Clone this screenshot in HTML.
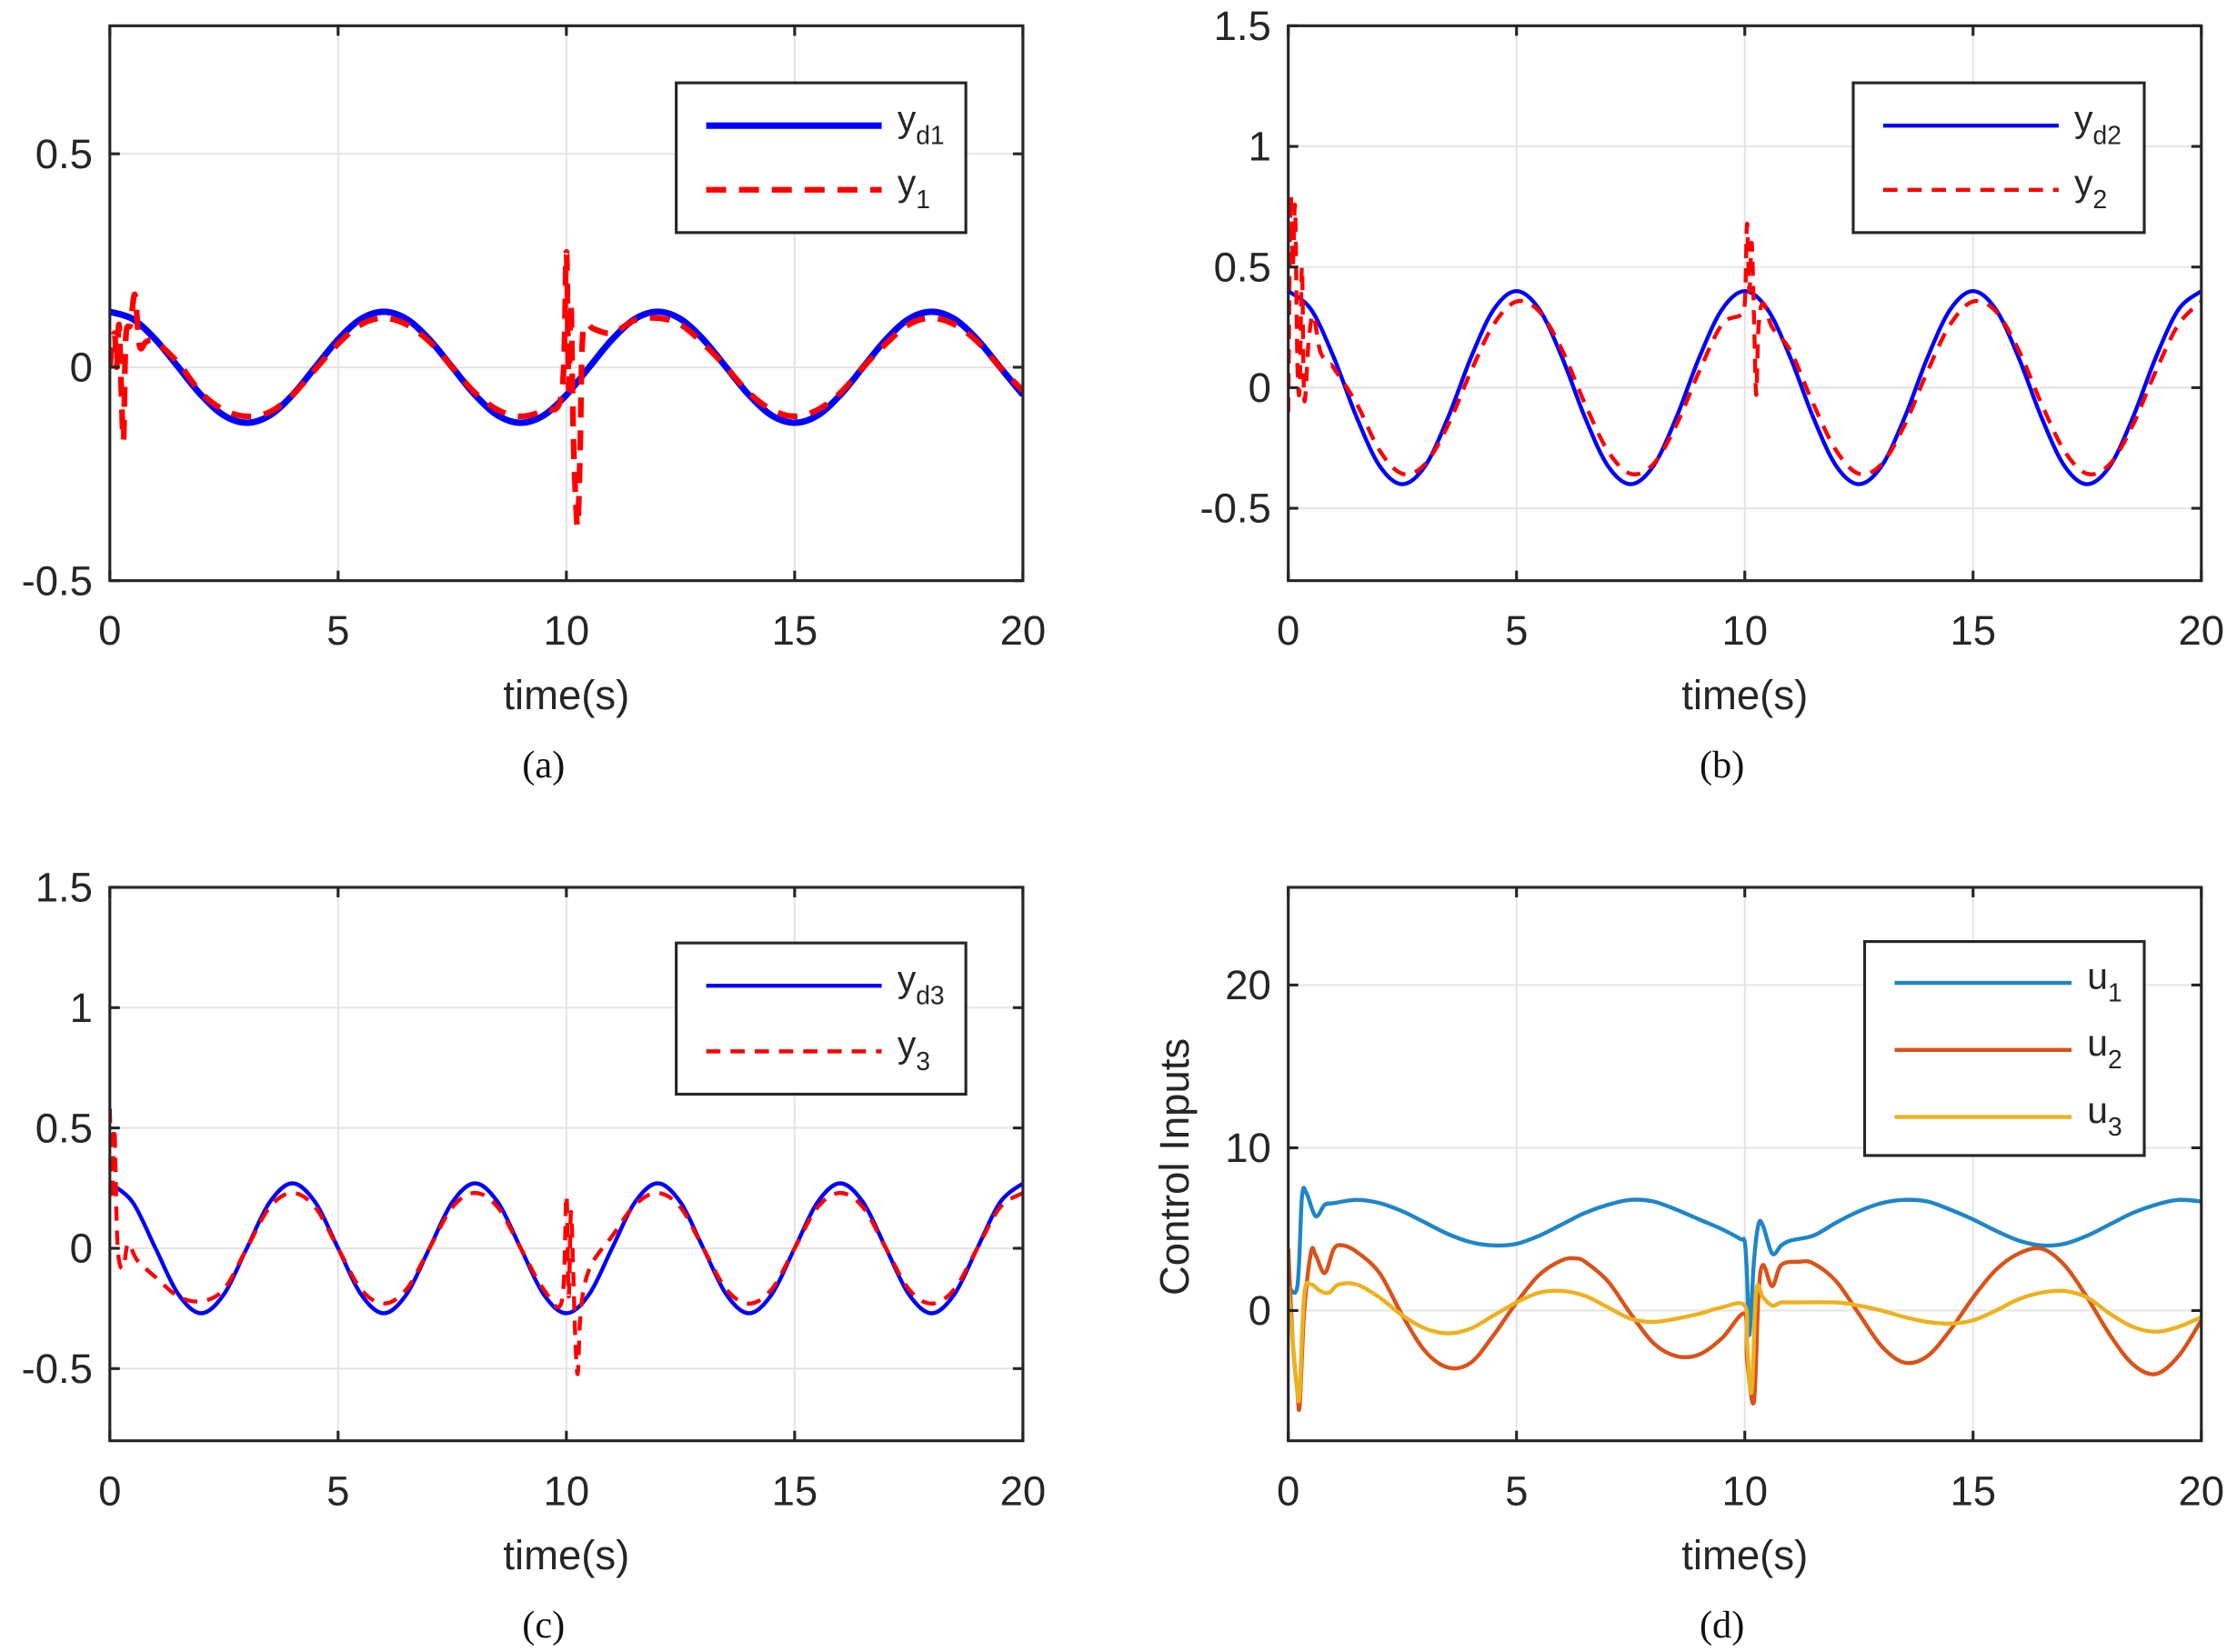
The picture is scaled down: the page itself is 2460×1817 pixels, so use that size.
<!DOCTYPE html>
<html><head><meta charset="utf-8">
<style>html,body{margin:0;padding:0;background:#fff}svg{display:block}</style>
</head><body>
<svg id="fig" width="2460" height="1817" viewBox="0 0 1568 1158" xmlns="http://www.w3.org/2000/svg" font-family="'Liberation Sans', sans-serif">
<rect width="1568" height="1158" fill="#fff"/>
</svg>
<script>
// ---------- data ----------
const xTicks = [0,5,10,15,20];
const xTickLabels = ['0','5','10','15','20'];
const aTicks = [-0.5,0,0.5];
const aTickLabels = ['-0.5','0','0.5'];
const bTicks = [-0.5,0,0.5,1,1.5];
const bTickLabels = ['-0.5','0','0.5','1','1.5'];
const dTicks = [0,10,20];
const dTickLabels = ['0','10','20'];

// desired trajectories sampled every 0.5 s (t = 0..20)
const yd1Vals = [.13,.113,.065,0,-.065,-.113,-.13,-.113,-.065,0,.065,.113,.13,.113,.065,0,-.065,-.113,-.13,-.113,-.065,0,.065,.113,.13,.113,.065,0,-.065,-.113,-.13,-.113,-.065,0,.065,.113,.13,.113,.065,0,-.065];
const yd2Vals = [.4,.324,.124,-.124,-.324,-.4,-.324,-.124,.124,.324,.4,.324,.124,-.124,-.324,-.4,-.324,-.124,.124,.324,.4,.324,.124,-.124,-.324,-.4,-.324,-.124,.124,.324,.4,.324,.124,-.124,-.324,-.4,-.324,-.124,.124,.324,.4];
const yd3Vals = [.27,.191,0,-.191,-.27,-.191,0,.191,.27,.191,0,-.191,-.27,-.191,0,.191,.27,.191,0,-.191,-.27,-.191,0,.191,.27,.191,0,-.191,-.27,-.191,0,.191,.27,.191,0,-.191,-.27,-.191,0,.191,.27];

const y1T = [0,0.1,0.15,0.2,0.25,0.3,0.35,0.45,0.55,0.65,0.8,1,1.5,2,2.5,3,3.5,4,4.5,5,5.5,6,6.5,7,7.5,8,8.5,9,9.5,9.9,10,10.05,10.1,10.15,10.2,10.25,10.3,10.35,10.45,10.6,11,11.5,12,12.5,13,13.5,14,14.5,15,15.5,16,16.5,17,17.5,18,18.5,19,19.5,20];
const y1V = [0,0.08,0,0.1,-0.05,-0.17,0.07,0.1,0.17,0.05,0.06,0.06,0.01,-0.06,-0.1,-0.115,-0.105,-0.065,-0.005,0.055,0.1,0.115,0.1,0.06,0,-0.06,-0.1,-0.115,-0.1,-0.06,0.27,-0.05,0.15,-0.15,-0.3,-0.37,-0.2,0.06,0.1,0.09,0.08,0.11,0.115,0.1,0.055,0,-0.06,-0.1,-0.115,-0.1,-0.06,0,0.055,0.1,0.115,0.1,0.06,0,-0.055];

const y2T = [0,0.05,0.1,0.15,0.2,0.25,0.3,0.35,0.45,0.55,0.7,0.9,1,1.5,2,2.5,3,3.5,4,4.5,5,5.5,6,6.5,7,7.5,8,8.5,9,9.5,9.9,10,10.05,10.1,10.15,10.2,10.25,10.3,10.4,10.6,11,11.5,12,12.5,13,13.5,14,14.5,15,15.5,16,16.5,17,17.5,18,18.5,19,19.5,20];
const y2V = [-0.1,0.78,0.5,0.75,0.1,0,0.5,-0.05,0.2,0.3,0.15,0.1,0.08,-0.067,-0.26,-0.357,-0.316,-0.155,0.067,0.262,0.357,0.316,0.155,-0.067,-0.262,-0.357,-0.316,-0.155,0.067,0.262,0.3,0.35,0.68,0.4,0.6,0.3,-0.03,0.25,0.35,0.25,0.153,-0.067,-0.26,-0.357,-0.316,-0.155,0.067,0.262,0.357,0.316,0.155,-0.067,-0.262,-0.357,-0.316,-0.155,0.067,0.262,0.357];

const y3T = [0,0.05,0.1,0.15,0.2,0.3,0.4,0.6,1,1.5,2,2.5,3,3.5,4,4.5,5,5.5,6,6.5,7,7.5,8,8.5,9,9.5,9.9,10,10.05,10.1,10.15,10.2,10.25,10.3,10.4,10.6,11,11.5,12,12.5,13,13.5,14,14.5,15,15.5,16,16.5,17,17.5,18,18.5,19,19.5,20];
const y3V = [0.58,0.2,0.5,0.1,-0.05,-0.08,0.02,-0.05,-0.12,-0.2,-0.22,-0.17,0,0.17,0.23,0.17,0,-0.17,-0.23,-0.17,0,0.17,0.23,0.17,0,-0.17,-0.22,0.22,-0.2,0.15,-0.1,-0.4,-0.52,-0.3,-0.15,-0.05,0.05,0.18,0.23,0.17,0,-0.17,-0.23,-0.17,0,0.17,0.23,0.17,0,-0.17,-0.23,-0.17,0,0.17,0.23];

const u1T = [0,0.2,0.3,0.4,0.6,0.8,1,1.5,2,2.5,3,3.5,4,4.5,5,5.5,6,6.5,7,7.5,8,8.5,9,9.5,9.9,10,10.05,10.1,10.2,10.3,10.4,10.6,10.8,11,11.5,12,12.5,13,13.5,14,14.5,15,15.5,16,16.5,17,17.5,18,18.5,19,19.5,20];
const u1V = [1.5,1.5,7,7.2,5.8,6.5,6.6,6.8,6.6,6.1,5.4,4.7,4.2,4.0,4.1,4.6,5.3,6.0,6.5,6.8,6.7,6.2,5.6,5.0,4.4,4.2,2,-1.5,3,5.3,5.2,3.5,4.0,4.3,4.6,5.4,6.1,6.6,6.8,6.7,6.2,5.6,4.9,4.3,4.0,4.1,4.6,5.3,6.0,6.5,6.8,6.7];
const u2T = [0,0.1,0.2,0.25,0.35,0.5,0.6,0.8,1,1.2,1.5,2,2.5,3,3.5,4,4.5,5,5.5,6,6.3,6.5,7,7.5,8,8.5,9,9.5,10,10.05,10.2,10.3,10.4,10.6,10.8,11.2,11.5,12,12.5,13,13.5,14,14.5,15,15.5,16,16.5,17,17.5,18,18.5,19,19.5,20];
const u2V = [3.8,-2,-5,-5.8,0,3.6,3.4,2.3,3.8,4.0,3.6,2.3,-0.3,-2.5,-3.5,-3.2,-1.5,0.5,2.2,3.1,3.2,3.0,1.8,-0.2,-2,-2.8,-2.7,-1.7,-0.2,-3,-5.6,1,2.8,1.5,2.8,3.0,2.9,1.8,-0.2,-2.2,-3.2,-2.8,-1.2,0.8,2.5,3.5,3.8,2.8,0.8,-1.5,-3.3,-3.9,-2.8,-0.6];
const u3T = [0,0.1,0.2,0.25,0.35,0.5,0.7,0.9,1.1,1.5,2,2.5,3,3.5,4,4.5,5,5.5,6,6.5,7,7.5,8,8.5,9,9.5,10,10.05,10.15,10.25,10.4,10.6,10.8,11,12,12.5,13,13.5,14,14.5,15,15.5,16,16.5,17,17.5,18,18.5,19,19.5,20];
const u3V = [1.5,-2,-5,-5,1,1.6,1.2,1.1,1.6,1.6,0.8,-0.3,-1.1,-1.4,-1.1,-0.3,0.5,1.1,1.2,0.9,0.2,-0.5,-0.7,-0.5,-0.2,0.2,0.3,-2,-5,1.2,0.8,0.3,0.5,0.5,0.5,0.3,0,-0.4,-0.7,-0.8,-0.6,0,0.7,1.1,1.2,0.8,-0.2,-1.0,-1.3,-1.0,-0.4];

// ---------- drawing ----------
const NS='http://www.w3.org/2000/svg';
const svg=document.getElementById('fig');
function mk(tag,attrs,parent){const e=document.createElementNS(NS,tag);for(const k in attrs)e.setAttribute(k,attrs[k]);(parent||svg).appendChild(e);return e;}
function grid05(n){const a=[];for(let i=0;i<n;i++)a.push(i*0.5);return a;}

function panel(p){
  const g=mk('g',{});
  
  
  const sx=v=>p.x0+(v-0)/(20-0)*(p.x1-p.x0);
  const sy=v=>p.y1-(v-p.ymin)/(p.ymax-p.ymin)*(p.y1-p.y0);
  mk('rect',{x:p.x0,y:p.y0,width:p.x1-p.x0,height:p.y1-p.y0,fill:'#fff'},g);
  xTicks.forEach(v=>{const l=mk('line',{x1:sx(v),x2:sx(v),y1:p.y0,y2:p.y1,stroke:'#e3e3e3','stroke-width':1.2},g);});
  p.yt.forEach(v=>{const l=mk('line',{x1:p.x0,x2:p.x1,y1:sy(v),y2:sy(v),stroke:'#e3e3e3','stroke-width':1.2},g);});
  const clipId='c'+p.name;
  const cp=mk('clipPath',{id:clipId},g);mk('rect',{x:p.x0,y:p.y0,width:p.x1-p.x0,height:p.y1-p.y0},cp);
  const sg=mk('g',{'clip-path':'url(#'+clipId+')'},g);
  p.series.forEach(s=>{
    const pts=s.t.map((t,i)=>[sx(t),sy(s.v[i])]);
    let d='M'+pts[0][0]+','+pts[0][1];
    for(let i=0;i<pts.length-1;i++){const p0=pts[Math.max(0,i-1)],p1=pts[i],p2=pts[i+1],p3=pts[Math.min(pts.length-1,i+2)];
      d+=' C'+(p1[0]+(p2[0]-p0[0])/6).toFixed(2)+','+(p1[1]+(p2[1]-p0[1])/6).toFixed(2)+' '+(p2[0]-(p3[0]-p1[0])/6).toFixed(2)+','+(p2[1]-(p3[1]-p1[1])/6).toFixed(2)+' '+p2[0].toFixed(2)+','+p2[1].toFixed(2);}
    const path=mk('path',{d:d,fill:'none',stroke:s.color,'stroke-width':s.w,'stroke-dasharray':s.dash||'none','stroke-linejoin':'round'},sg);
    
    
  });
  const box=mk('rect',{x:p.x0,y:p.y0,width:p.x1-p.x0,height:p.y1-p.y0,fill:'none',stroke:'#262626','stroke-width':2},g);
  
  xTicks.forEach((v,i)=>{
    mk('line',{x1:sx(v),x2:sx(v),y1:p.y1,y2:p.y1-7,stroke:'#262626','stroke-width':2},g);
    mk('line',{x1:sx(v),x2:sx(v),y1:p.y0,y2:p.y0+7,stroke:'#262626','stroke-width':2},g);
    const t=mk('text',{x:sx(v),y:p.y1+45,'font-size':29,fill:'#262626','text-anchor':'middle'},g);t.textContent=xTickLabels[i];
    
  });
  p.yt.forEach((v,i)=>{
    mk('line',{x1:p.x0,x2:p.x0+7,y1:sy(v),y2:sy(v),stroke:'#262626','stroke-width':2},g);
    mk('line',{x1:p.x1,x2:p.x1-7,y1:sy(v),y2:sy(v),stroke:'#262626','stroke-width':2},g);
    const t=mk('text',{x:p.x0-12,y:sy(v)+10,'font-size':29,fill:'#262626','text-anchor':'end'},g);t.textContent=p.ytl[i];
    
  });
  const xl=mk('text',{x:(p.x0+p.x1)/2,y:p.y1+90,'font-size':29,fill:'#262626','text-anchor':'middle'},g);xl.textContent='time(s)';
  
  const cap=mk('text',{x:(p.x0+p.x1)/2-16,y:p.y1+138,'font-size':27,fill:'#111','text-anchor':'middle','font-family':"'Liberation Serif', serif"},g);cap.textContent=p.caption;
  
  if(p.ylabel){const yl=mk('text',{x:0,y:0,'font-size':29,fill:'#262626','text-anchor':'middle',transform:'translate('+(p.x0-70)+','+((p.y0+p.y1)/2+2)+') rotate(-90)'},g);yl.textContent=p.ylabel;
    }
  const L=p.legend;
  const lg=mk('g',{},g);
  mk('rect',{x:L.x,y:L.y,width:L.w,height:L.h,fill:'#fff',stroke:'#262626','stroke-width':2},lg);
  p.series.forEach((s,i)=>{
    const yy=L.y+L.first+i*L.gap;
    const e=mk('g',{},lg);
    mk('line',{x1:L.x+21,x2:L.x+21+L.len,y1:yy,y2:yy,stroke:s.color,'stroke-width':s.w,'stroke-dasharray':s.dash||'none'},e);
    const t=mk('text',{x:L.x+32+L.len,y:yy+4,'font-size':26,fill:'#262626'},e);
    const a=mk('tspan',{},t);a.textContent=s.base;
    const b=mk('tspan',{dy:9,'font-size':18},t);b.textContent=s.sub;
  });
}

const t05=grid05(41);
panel({name:'panel-a',x0:77,x1:717,y0:18,y1:407,ymin:-0.5,ymax:0.8,yt:aTicks,ytl:aTickLabels,caption:'(a)',
  legend:{x:474,y:58,w:203,h:105,first:30,gap:45,len:123},
  series:[{id:'yd1',t:t05,v:yd1Vals,color:'#0000ff',w:4.5,base:'y',sub:'d1'},
          {id:'y1',t:y1T,v:y1V,color:'#ff0000',w:4,dash:'14 9',base:'y',sub:'1'}]});
panel({name:'panel-b',x0:903,x1:1543,y0:18,y1:407,ymin:-0.8,ymax:1.5,yt:bTicks,ytl:bTickLabels,caption:'(b)',
  legend:{x:1299,y:58,w:204,h:105,first:30,gap:45,len:123},
  series:[{id:'yd2',t:t05,v:yd2Vals,color:'#0000ff',w:2.8,base:'y',sub:'d2'},
          {id:'y2',t:y2T,v:y2V,color:'#ff0000',w:2.8,dash:'10 7',base:'y',sub:'2'}]});
panel({name:'panel-c',x0:77,x1:717,y0:622,y1:1010,ymin:-0.8,ymax:1.5,yt:bTicks,ytl:bTickLabels,caption:'(c)',
  legend:{x:474,y:661,w:203,h:106,first:30,gap:46,len:123},
  series:[{id:'yd3',t:t05,v:yd3Vals,color:'#0000ff',w:2.8,base:'y',sub:'d3'},
          {id:'y3',t:y3T,v:y3V,color:'#ff0000',w:2.8,dash:'10 7',base:'y',sub:'3'}]});
panel({name:'panel-d',x0:903,x1:1543,y0:622,y1:1010,ymin:-8,ymax:26,yt:dTicks,ytl:dTickLabels,caption:'(d)',ylabel:'Control Inputs',
  legend:{x:1307,y:660,w:196,h:150,first:29,gap:47,len:124},
  series:[{id:'u1',t:u1T,v:u1V,color:'#1f86c8',w:2.8,base:'u',sub:'1'},
          {id:'u2',t:u2T,v:u2V,color:'#d95319',w:2.8,base:'u',sub:'2'},
          {id:'u3',t:u3T,v:u3V,color:'#edb120',w:2.8,base:'u',sub:'3'}]});
</script>
</body></html>
